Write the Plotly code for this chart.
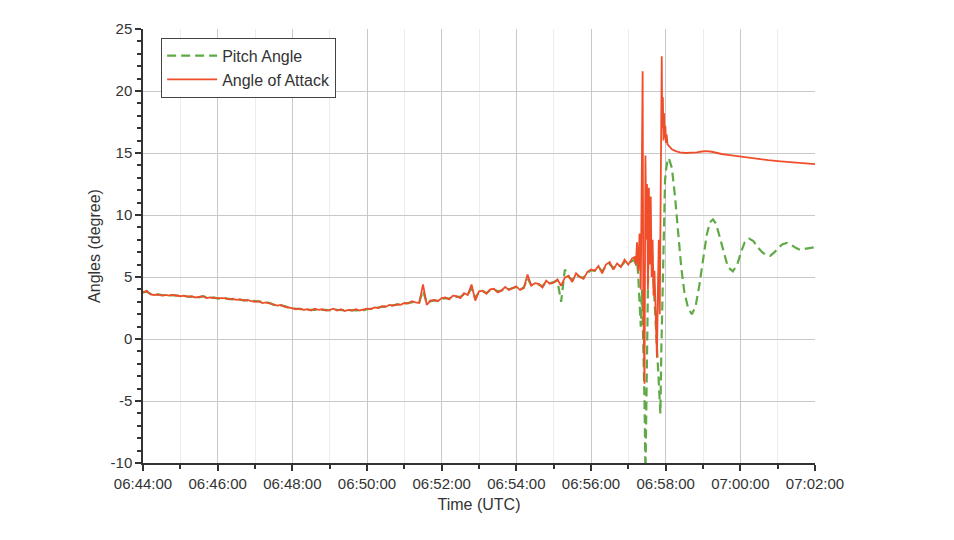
import plotly.graph_objects as go
import pandas as pd

# ---------------- data ----------------
T0 = pd.Timestamp("2017-01-01 06:44:00")

# regular 6-second samples from 06:44:00 to 06:57:06
main_secs = list(range(0, 792, 6))

aoa_main = [
    3.7, 3.9, 3.6, 3.55, 3.6, 3.5, 3.55, 3.5, 3.55, 3.5,
    3.45, 3.5, 3.4, 3.45, 3.35, 3.4, 3.45, 3.3, 3.35, 3.3,
    3.3, 3.25, 3.3, 3.2, 3.25, 3.15, 3.2, 3.1, 3.15, 3.05,
    3.0, 3.05, 2.9, 2.95, 2.85, 2.8, 2.7, 2.75, 2.6, 2.55,
    2.5, 2.4, 2.45, 2.35, 2.4, 2.3, 2.45, 2.35, 2.4, 2.3,
    2.35, 2.45, 2.3, 2.4, 2.25, 2.35, 2.3, 2.4, 2.3, 2.35,
    2.45, 2.4, 2.55, 2.5, 2.65, 2.6, 2.75, 2.7, 2.8, 2.75,
    2.9, 2.85, 3.05, 2.95, 2.9, 4.4, 2.75, 3.1, 3.15, 3.05,
    3.3, 3.35, 3.2, 3.5, 3.45, 3.3, 3.7, 3.55, 4.4, 3.1,
    3.85, 3.9, 3.65, 4.0, 4.05, 3.75, 3.9, 4.2, 3.95, 4.1,
    4.25, 3.95, 4.1, 5.2, 4.3, 4.5, 4.45, 4.15, 4.7, 4.45,
    4.55, 4.8, 4.3, 4.95, 5.1, 4.6, 5.3, 5.0, 4.85, 5.4,
    5.6, 5.5, 5.9, 5.3, 6.0, 6.2, 5.6, 6.1, 5.8, 6.4,
    6.0, 6.5,
]

pitch_main = [
    3.8, 3.8, 3.65, 3.5, 3.6, 3.55, 3.5, 3.55, 3.5, 3.5,
    3.5, 3.45, 3.45, 3.4, 3.4, 3.35, 3.45, 3.35, 3.3, 3.35,
    3.25, 3.3, 3.25, 3.25, 3.2, 3.2, 3.15, 3.15, 3.1, 3.1,
    3.05, 3.0, 2.95, 2.9, 2.9, 2.75, 2.75, 2.7, 2.65, 2.5,
    2.45, 2.45, 2.4, 2.4, 2.35, 2.35, 2.4, 2.4, 2.35, 2.35,
    2.3, 2.4, 2.35, 2.35, 2.3, 2.3, 2.35, 2.35, 2.35, 2.3,
    2.4, 2.45, 2.5, 2.55, 2.6, 2.65, 2.7, 2.75, 2.75, 2.8,
    2.85, 2.9, 2.95, 3.0, 3.0, 3.9, 2.9, 3.05, 3.1, 3.1,
    3.25, 3.3, 3.25, 3.45, 3.4, 3.4, 3.6, 3.6, 4.1, 3.3,
    3.8, 3.85, 3.7, 3.95, 4.0, 3.85, 3.9, 4.1, 4.0, 4.1,
    4.2, 4.0, 4.15, 4.9, 4.35, 4.45, 4.4, 4.25, 4.6, 4.5,
    4.6, 4.7, 3.0, 5.6, 5.0, 4.75, 5.2, 5.0, 4.95, 5.3,
    5.55, 5.5, 5.8, 5.45, 5.9, 6.05, 5.7, 6.0, 5.85, 6.2,
    6.1, 6.3,
]

# stall / spike region and recovery (seconds after 06:44:00)
aoa_late_secs = [790, 792, 794, 796, 798, 800, 801, 803, 804, 806, 807.5, 809, 810,
                 811.5, 813, 814.5, 816, 817.5, 819, 820.5, 822, 824, 826, 827.5, 829,
                 830.5, 832, 833.7, 834.5, 835.5, 836.5, 837.5, 838.5, 839.5, 840.5,
                 841.5, 843, 845, 850, 856, 863, 872, 882, 890, 898, 906, 914, 922,
                 930, 940, 950, 960, 975, 990, 1005, 1020, 1035, 1050, 1065, 1080]
aoa_late = [6.6, 6.0, 7.8, 5.5, 8.5, 4.0, 12.0, 21.6, 3.0, -3.6, 14.8, 8.0, 12.5,
            4.0, 12.2, 6.0, 11.5, 5.0, 8.0, 3.5, 5.5, 2.0, -1.5, 4.0, 8.0,
            2.0, 14.0, 22.8, 17.0, 19.5, 16.0, 18.2, 16.2, 17.2, 15.8,
            16.5, 15.7, 15.6, 15.3, 15.15, 15.05, 15.0, 15.0, 15.05, 15.12, 15.15, 15.1, 15.0,
            14.92, 14.85, 14.78, 14.72, 14.62, 14.5, 14.42, 14.35, 14.28, 14.22, 14.15, 14.1]

pitch_late_secs = [790, 792, 794, 796, 798, 800, 802, 804, 806, 807.5, 809, 810.5,
                   812, 814, 816, 818, 820, 822, 824, 826, 828, 830, 831.5, 833,
                   834.5, 836, 837.5, 839, 841, 843, 845, 850, 855, 860, 865, 870,
                   876, 882, 888, 894, 900, 906, 911, 916, 921, 927, 933, 940, 948,
                   955, 961, 967, 974, 981, 988, 995, 1002, 1008, 1015, 1022, 1028,
                   1035, 1042, 1049, 1056, 1063, 1070, 1080]
pitch_late = [6.4, 5.8, 6.5, 5.0, 3.0, 1.0, 4.0, 0.5, -5.0, -11.0, -4.0, 2.0,
              6.0, 7.8, 8.0, 7.0, 5.0, 3.0, 1.0, -1.0, -3.0, -5.0, -6.0, -1.0,
              3.0, 8.0, 11.0, 12.8, 13.8, 14.4, 14.6, 13.8, 11.5, 8.5, 5.8, 3.8,
              2.5, 2.0, 2.6, 4.3, 6.5, 8.4, 9.4, 9.65, 9.3, 8.2, 6.9, 5.8, 5.45,
              6.0, 7.0, 7.8, 8.1, 7.9, 7.4, 7.0, 6.75, 6.7, 7.0, 7.4, 7.65,
              7.75, 7.6, 7.35, 7.2, 7.25, 7.35, 7.4]

x_tick_labels = ["06:44:00", "06:46:00", "06:48:00", "06:50:00", "06:52:00",
                 "06:54:00", "06:56:00", "06:58:00", "07:00:00", "07:02:00"]
y_tick_vals = [-10, -5, 0, 5, 10, 15, 20, 25]
y_tick_labels = ["-10", "-5", "0", "5", "10", "15", "20", "25"]


def to_dt(secs):
    return [T0 + pd.Timedelta(seconds=s) for s in secs]


pitch_x = to_dt(main_secs + pitch_late_secs)
pitch_y = pitch_main + pitch_late
aoa_x = to_dt(main_secs + aoa_late_secs)
aoa_y = aoa_main + aoa_late

tick_vals = [T0 + pd.Timedelta(minutes=2 * i) for i in range(len(x_tick_labels))]
minor_vals = [T0 + pd.Timedelta(minutes=2 * i + 1) for i in range(len(x_tick_labels) - 1)]

fig = go.Figure()
fig.add_trace(go.Scatter(
    x=pitch_x, y=pitch_y, mode="lines", name="Pitch Angle",
    line=dict(color="#5FAA46", width=2.2, dash="9px,5px"),
))
fig.add_trace(go.Scatter(
    x=aoa_x, y=aoa_y, mode="lines", name="Angle of Attack",
    line=dict(color="#F04E2B", width=1.8),
))

font_family = "Liberation Sans, Arial, sans-serif"
fig.update_layout(
    width=946, height=532,
    margin=dict(l=135, r=139, t=12, b=77),
    paper_bgcolor="white", plot_bgcolor="white",
    font=dict(family=font_family, size=15, color="#333333"),
    showlegend=True,
    legend=dict(
        x=0.027, y=0.98, xanchor="left", yanchor="top",
        bgcolor="white", bordercolor="#444444", borderwidth=1,
        font=dict(size=16, color="#333333"),
        itemwidth=50, tracegroupgap=0,
    ),
    xaxis=dict(
        type="date",
        range=[T0, T0 + pd.Timedelta(minutes=18)],
        tickmode="array", tickvals=tick_vals, ticktext=x_tick_labels,
        ticks="outside", ticklen=6, tickwidth=1.5, tickcolor="#333333",
        showline=True, linecolor="#333333", linewidth=1.5,
        showgrid=True, gridcolor="#c8c8c8", gridwidth=1,
        zeroline=False,
        minor=dict(tickvals=minor_vals,
                   ticks="outside", ticklen=4, tickcolor="#333333",
                   showgrid=True, gridcolor="#ececec"),
        title=dict(text="Time (UTC)", font=dict(size=16), standoff=8),
        tickfont=dict(size=15),
    ),
    yaxis=dict(
        range=[-10, 25],
        tickmode="array", tickvals=y_tick_vals, ticktext=y_tick_labels,
        ticks="outside", ticklen=6, tickwidth=1.5, tickcolor="#333333",
        showline=True, linecolor="#333333", linewidth=1.5,
        showgrid=True, gridcolor="#c8c8c8", gridwidth=1,
        zeroline=False,
        minor=dict(dtick=1, ticks="outside", ticklen=4, tickcolor="#333333",
                   showgrid=False),
        title=dict(text="Angles (degree)", font=dict(size=16), standoff=6),
        tickfont=dict(size=15),
    ),
)

fig.write_html("out.html")
